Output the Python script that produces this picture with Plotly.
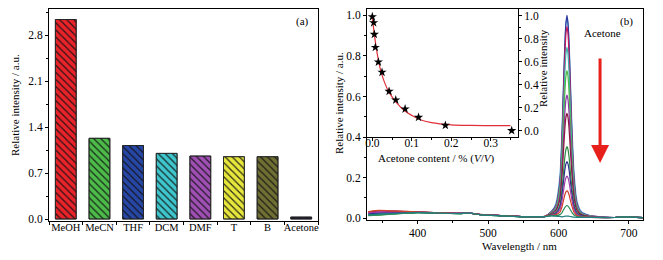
import plotly.graph_objects as go

# The page adds an 8 px body margin, so the figure is 8 px smaller and all
# reference pixel positions are shifted by 8 px.
OFF = 8
W, H = 663 - OFF, 260 - OFF
FONT = "Liberation Serif"

# ---------- panel (a) data ----------
solvents = ["MeOH", "MeCN", "THF", "DCM", "DMF", "T", "B", "Acetone"]
solvent_intensity = [3.04, 1.23, 1.12, 1.00, 0.96, 0.95, 0.95, 0.03]
bar_colors = ["#e8232a", "#4dbb4a", "#2747a6", "#3ec6cc", "#a050b4", "#e6e63c", "#6f6f34", "#1c1c40"]
a_ticks = [0.0, 0.7, 1.4, 2.1, 2.8]

# ---------- panel (b) spectra ----------
wl = [330, 345, 360, 380, 400, 430, 460, 470, 490, 520, 550, 580,
      590, 596, 602, 605, 607, 609, 610.5, 612, 613.5, 615, 617, 619, 622, 626, 632, 645,
      680, 695, 720]
spec_a = [0.022,0.025,0.026,0.028,0.029,0.027,0.024,0.028,0.018,0.013,0.008,0.008,
          0.035,0.070,0.210,0.440,0.660,0.860,0.955,0.985,0.955,0.870,0.670,0.460,0.230,0.090,0.035,0.013,
          0.004,0.007,0.003]
spec_b = [0.020,0.024,0.025,0.027,0.029,0.027,0.024,0.027,0.018,0.013,0.008,0.008,
          0.032,0.060,0.177,0.403,0.632,0.851,0.960,1.000,0.960,0.851,0.632,0.423,0.194,0.075,0.030,0.012,
          0.004,0.007,0.003]
spec_c = [0.030,0.036,0.035,0.033,0.031,0.027,0.024,0.027,0.019,0.013,0.008,0.009,
          0.031,0.057,0.168,0.381,0.597,0.803,0.906,0.944,0.906,0.803,0.597,0.399,0.183,0.071,0.028,0.012,
          0.004,0.007,0.003]
spec_d = [0.018,0.022,0.024,0.027,0.029,0.027,0.024,0.028,0.018,0.013,0.008,0.008,
          0.029,0.052,0.150,0.340,0.532,0.716,0.809,0.842,0.809,0.716,0.532,0.357,0.164,0.064,0.026,0.011,
          0.004,0.007,0.003]
spec_e = [0.014,0.017,0.020,0.025,0.028,0.026,0.023,0.026,0.017,0.012,0.007,0.008,
          0.026,0.046,0.131,0.294,0.460,0.620,0.699,0.728,0.699,0.620,0.460,0.309,0.142,0.056,0.023,0.010,
          0.004,0.007,0.003]
spec_f = [0.025,0.030,0.030,0.030,0.030,0.027,0.024,0.027,0.018,0.013,0.008,0.008,
          0.024,0.040,0.110,0.246,0.384,0.517,0.583,0.607,0.583,0.517,0.384,0.258,0.119,0.047,0.020,0.009,
          0.004,0.007,0.003]
spec_g = [0.032,0.038,0.036,0.034,0.031,0.027,0.024,0.026,0.018,0.013,0.008,0.009,
          0.022,0.036,0.095,0.210,0.328,0.440,0.497,0.517,0.497,0.440,0.328,0.220,0.102,0.041,0.018,0.008,
          0.004,0.007,0.003]
spec_h = [0.016,0.018,0.021,0.025,0.028,0.026,0.023,0.026,0.017,0.012,0.007,0.008,
          0.019,0.027,0.067,0.144,0.224,0.301,0.339,0.353,0.339,0.301,0.224,0.151,0.071,0.029,0.014,0.007,
          0.004,0.007,0.003]
spec_i = [0.022,0.026,0.027,0.028,0.029,0.027,0.024,0.027,0.018,0.013,0.008,0.008,
          0.017,0.024,0.055,0.115,0.178,0.238,0.268,0.279,0.268,0.238,0.178,0.120,0.057,0.024,0.012,0.006,
          0.004,0.007,0.003]
spec_j = [0.026,0.031,0.031,0.031,0.030,0.027,0.024,0.027,0.018,0.013,0.008,0.008,
          0.016,0.020,0.043,0.086,0.133,0.178,0.200,0.208,0.200,0.178,0.133,0.090,0.044,0.019,0.010,0.006,
          0.004,0.007,0.003]
spec_k = [0.033,0.039,0.037,0.034,0.031,0.027,0.024,0.026,0.018,0.013,0.008,0.009,
          0.015,0.017,0.030,0.057,0.087,0.116,0.130,0.135,0.130,0.116,0.087,0.060,0.030,0.014,0.008,0.005,
          0.004,0.007,0.003]
spec_l = [0.013,0.016,0.019,0.024,0.028,0.026,0.023,0.026,0.017,0.012,0.007,0.008,
          0.013,0.013,0.018,0.028,0.041,0.053,0.060,0.062,0.060,0.053,0.041,0.029,0.016,0.009,0.006,0.005,
          0.004,0.007,0.003]
spec_m = [0.017,0.020,0.023,0.026,0.028,0.026,0.023,0.026,0.017,0.012,0.007,0.008,
          0.012,0.010,0.009,0.007,0.009,0.010,0.011,0.011,0.011,0.010,0.009,0.007,0.006,0.005,0.005,0.004,
          0.004,0.007,0.003]
spectra = [spec_a, spec_b, spec_c, spec_d, spec_e, spec_f, spec_g,
           spec_h, spec_i, spec_j, spec_k, spec_l, spec_m]
spec_colors = ["#5aa7d8", "#2b3a9c", "#c2185b", "#3bb3b0", "#4cb848", "#8e3aa6", "#8c1840",
               "#2e8b45", "#2c2f8a", "#a23ea8", "#d0402a", "#2e8b57", "#1f8080"]

# ---------- inset data ----------
acetone_content = [0, 0.0034, 0.0051, 0.0076, 0.0153, 0.0246, 0.0424, 0.0593, 0.083, 0.117, 0.185, 0.353]
relative_intensity = [0.991, 0.939, 0.838, 0.725, 0.598, 0.509, 0.344, 0.269, 0.191, 0.118, 0.049, 0.003]
fit_x = [0, 0.005, 0.01, 0.015, 0.02, 0.025, 0.03, 0.04, 0.05, 0.06, 0.08, 0.10, 0.12, 0.15, 0.20, 0.25, 0.30, 0.35]
fit_y = [0.99, 0.84, 0.72, 0.62, 0.54, 0.48, 0.43, 0.35, 0.295, 0.25, 0.18, 0.135, 0.10, 0.072, 0.053, 0.048, 0.047, 0.046]


def px(x):
    return (x - OFF) / W


def py(y):
    return 1 - (y - OFF) / H


fig = go.Figure()

# solid coloured bars
fig.add_trace(go.Bar(
    x=solvents, y=solvent_intensity, width=0.62,
    marker=dict(color=bar_colors, line=dict(color="#222222", width=0.8)),
    xaxis="x", yaxis="y", showlegend=False, hoverinfo="skip"))
# hatching overlay
fig.add_trace(go.Bar(
    x=solvents, y=solvent_intensity, width=0.62,
    marker=dict(color="rgba(0,0,0,0)", line=dict(color="#222222", width=0.8),
                pattern=dict(shape="\\", fillmode="overlay", fgcolor="#101010", fgopacity=0.85,
                             size=5, solidity=0.25)),
    xaxis="x", yaxis="y", showlegend=False))

for s, c in zip(spectra, spec_colors):
    fig.add_trace(go.Scatter(x=wl, y=s, mode="lines", line=dict(color=c, width=1.2, shape="spline", smoothing=0.6),
                             xaxis="x2", yaxis="y2", showlegend=False))

fig.add_trace(go.Scatter(x=fit_x, y=fit_y, mode="lines", line=dict(color="#e0303a", width=1.2, shape="spline"),
                         xaxis="x3", yaxis="y3", showlegend=False))
fig.add_trace(go.Scatter(x=acetone_content, y=relative_intensity, mode="markers",
                         marker=dict(symbol="star", size=7, color="black", line=dict(width=0)),
                         xaxis="x3", yaxis="y3", showlegend=False))

FT = 11.5   # tick numbers
FX = 11     # texts
tickfont = dict(family=FONT, size=FT, color="black")
common = dict(showline=True, linecolor="black", linewidth=1, mirror=True, showgrid=False, zeroline=False,
              ticks="outside", ticklen=3, tickcolor="black", tickfont=tickfont, automargin=False)

fig.update_layout(
    width=W, height=H, margin=dict(l=0, r=0, t=0, b=0, autoexpand=False),
    paper_bgcolor="white", plot_bgcolor="white",
    font=dict(family=FONT, size=FX, color="black"),
    barmode="overlay",
    xaxis=dict(domain=[px(49), px(318)], anchor="y", type="category", range=[-0.5, 7.5],
               tickson="boundaries", tickangle=0, ticklabelstandoff=-4,
               **{**common, "tickfont": dict(family=FONT, size=10.5, color="black")}),
    yaxis=dict(domain=[py(221), py(9)], anchor="x", range=[-0.03, 3.2], tickvals=a_ticks,
               ticktext=["%.1f" % v for v in a_ticks],
               minor=dict(dtick=0.35, tick0=0, ticks="outside", ticklen=2, tickcolor="black"), **common),
    xaxis2=dict(domain=[px(367), px(643)], anchor="y2", range=[328, 720], dtick=100, tick0=0,
                ticklabelstandoff=-1,
                minor=dict(dtick=50, ticks="outside", ticklen=2, tickcolor="black"), **common),
    yaxis2=dict(domain=[py(220), py(9)], anchor="x2", range=[-0.0084, 1.031], dtick=0.2, tick0=0,
                tickformat=".1f",
                minor=dict(dtick=0.1, ticks="outside", ticklen=2, tickcolor="black"), **common),
    xaxis3=dict(domain=[px(367), px(518)], anchor="y3", range=[-0.0135, 0.369], dtick=0.1, tick0=0,
                tickformat=".1f", ticklabelstandoff=-7,
                minor=dict(dtick=0.05, ticks="outside", ticklen=2, tickcolor="black"), **common),
    yaxis3=dict(domain=[py(136.5), py(9)], anchor="x3", side="right", range=[-0.048, 1.058], dtick=0.2,
                tick0=0, tickformat=".1f",
                minor=dict(dtick=0.1, ticks="outside", ticklen=2, tickcolor="black"), **common),
)

ann_font = dict(family=FONT, size=FX, color="black")
annotations = [
    dict(text="Relative intensity / a.u.", x=px(15), y=py(105), textangle=-90),
    dict(text="Relative intensity / a.u.", x=px(339), y=py(103), textangle=-90),
    dict(text="Wavelength / nm", x=px(519), y=py(246)),
    dict(text="(a)", x=px(302), y=py(21)),
    dict(text="(b)", x=px(626), y=py(21)),
    dict(text="Acetone", x=px(602), y=py(33)),
    dict(text="Acetone content / % (<i>V</i>/<i>V</i>)", x=px(436), y=py(158)),
    dict(text="Relative intensity", x=px(543), y=py(68), textangle=-90),
]
for a in annotations:
    fig.add_annotation(xref="paper", yref="paper", showarrow=False, font=ann_font,
                       xanchor="center", yanchor="middle", **a)

fig.add_annotation(x=659, y=0.272, ax=659, ay=0.795, xref="x2", yref="y2", axref="x2", ayref="y2",
                   text="", showarrow=True, arrowhead=2, arrowsize=1.2, arrowwidth=3, arrowcolor="#e8201c",
                   standoff=0, startstandoff=0)

fig.write_html("out.html")
